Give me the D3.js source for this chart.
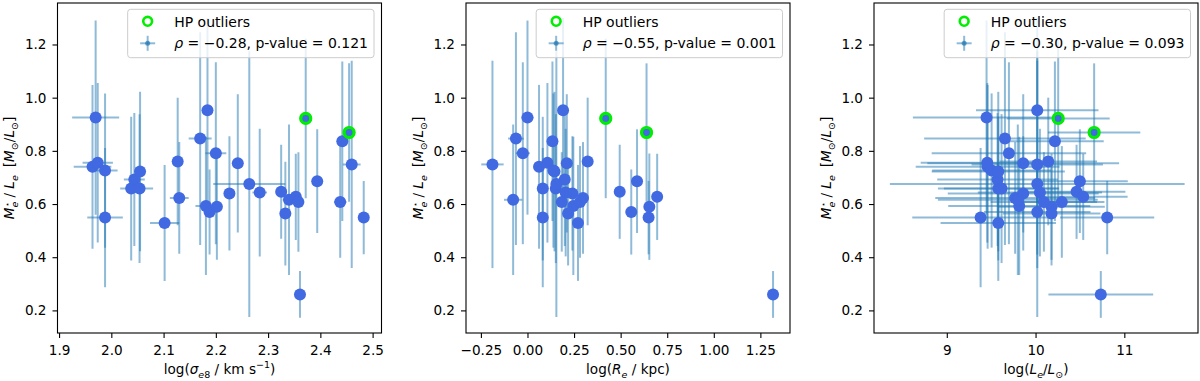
<!DOCTYPE html>
<meta charset="utf-8">
<script src="https://cdn.jsdelivr.net/npm/d3@7"></script>
<style>
  body { margin: 0; background: #fff; }
  svg { font-family: "DejaVu Sans", sans-serif; }
</style>
<body>
<svg id="fig" width="1200" height="381"></svg>
<script>
// one entry per galaxy, same order in every array
var mlRatio = [0.925,0.740,0.755,0.726,0.549,0.658,0.692,0.722,0.658,0.529,0.760,0.623,0.846,0.953,0.593,0.570,0.791,0.590,0.640,0.753,0.675,0.643,0.646,0.564,0.616,0.627,0.608,0.260,0.922,0.686,0.836,0.869,0.608,0.749,0.549];
var mlErr   = [0.365,0.308,0.300,0.290,0.262,0.270,0.250,0.300,0.280,0.218,0.240,0.210,0.400,0.347,0.260,0.160,0.342,0.200,0.215,0.260,0.500,0.240,0.177,0.195,0.283,0.162,0.187,0.088,0.300,0.195,0.300,0.260,0.210,0.390,0.138];

var logSigma    = [1.970,1.964,1.974,1.988,1.988,2.038,2.044,2.055,2.054,2.102,2.127,2.130,2.170,2.184,2.181,2.188,2.200,2.202,2.226,2.242,2.264,2.284,2.325,2.333,2.340,2.353,2.358,2.361,2.372,2.394,2.442,2.455,2.438,2.460,2.483];
var logSigmaErr = [0.045,0.036,0.029,0.024,0.034,0.021,0.020,0.011,0.026,0.028,0.006,0.018,0.022,0.008,0.020,0.008,0.020,0.010,0.005,0.005,0.069,0.014,0.010,0.005,0.012,0.005,0.005,0.005,0.005,0.005,0.005,0.005,0.012,0.017,0.005];

var logRe    = [0.000,0.062,0.107,0.139,0.082,0.082,0.200,0.145,0.152,0.271,0.323,0.298,-0.062,0.191,0.246,0.557,-0.025,0.654,0.241,0.211,0.155,0.205,0.495,0.218,-0.077,0.696,0.184,1.318,0.420,0.588,0.134,0.639,0.282,-0.188,0.650];
var logReErr = [0.033,0.020,0.015,0.010,0.015,0.012,0.010,0.010,0.010,0.010,0.012,0.012,0.042,0.010,0.012,0.010,0.038,0.010,0.010,0.010,0.010,0.010,0.010,0.012,0.049,0.010,0.010,0.010,0.010,0.010,0.010,0.010,0.010,0.060,0.010];

var logLum    = [9.448,9.460,9.456,9.505,9.381,9.580,9.572,9.580,9.617,9.580,10.143,9.770,9.655,10.019,9.816,10.019,9.700,10.180,9.861,9.861,10.019,10.049,10.462,10.180,9.800,10.537,10.094,10.735,10.255,10.499,10.218,10.660,10.296,10.019,10.807];
var logLumErr = [0.83,0.81,0.75,0.67,0.77,0.68,0.68,0.75,0.65,0.65,0.55,0.90,0.91,0.69,0.80,0.60,0.87,0.60,0.85,1.08,1.66,0.70,0.55,0.55,0.90,0.50,0.60,0.59,0.58,0.54,0.55,0.52,0.48,0.74,0.53];

var hpOutliers = [28, 31];

var rhoText = ["\u22120.28", "\u22120.55", "\u22120.30"];
var pText = ["0.121", "0.001", "0.093"];

var yTicks = [0.2, 0.4, 0.6, 0.8, 1.0, 1.2];
var sigmaTicks = [1.9, 2.0, 2.1, 2.2, 2.3, 2.4, 2.5];
var reTicks = [-0.25, 0, 0.25, 0.5, 0.75, 1.0, 1.25];
var lumTicks = [9, 10, 11];

var fs = 13.6, small = 9.5;
var axTop = 3, axW = 324, axH = 330;
var axLeft = [57.5, 466, 874];
var yDomain = [0.115, 1.356];
var errColor = "#1f77b4", dotColor = "#4169e1", hpColor = "#00ee00";

var svg = d3.select("#fig");

// mathtext-ish label: parts of {t, it, s:'sub'|'sup', dx}
function rich(text, parts) {
    var off = 0;
    parts.forEach(function (p) {
        var target = p.s === "sub" ? 4.2 : p.s === "sup" ? (p.up || -5.5) : 0;
        var ts = text.append("tspan").text(p.t);
        if (target !== off) ts.attr("dy", target - off);
        if (p.dx) ts.attr("dx", p.dx);
        if (p.it) ts.attr("font-style", "italic");
        if (p.s) ts.attr("font-size", p.size || small);
        off = target;
    });
}

function panel(i, xs, xerr, xDomain, xTicks, xFmt, xLabelParts) {
    var g = svg.append("g").attr("transform", "translate(" + axLeft[i] + "," + axTop + ")");
    var x = d3.scaleLinear().domain(xDomain).range([0, axW]);
    var y = d3.scaleLinear().domain(yDomain).range([axH, 0]);

    g.append("clipPath").attr("id", "clip" + i)
        .append("rect").attr("width", axW).attr("height", axH);
    var plot = g.append("g").attr("clip-path", "url(#clip" + i + ")");

    var pts = mlRatio.map(function (v, k) {
        return { x: xs[k], xe: xerr[k], y: v, ye: mlErr[k], hp: hpOutliers.indexOf(k) >= 0 };
    });

    plot.selectAll("line.ex").data(pts).join("line")
        .attr("x1", d => x(d.x - d.xe)).attr("x2", d => x(d.x + d.xe))
        .attr("y1", d => y(d.y)).attr("y2", d => y(d.y))
        .attr("stroke", errColor).attr("stroke-width", 2).attr("stroke-opacity", 0.5);
    plot.selectAll("line.ey").data(pts).join("line")
        .attr("x1", d => x(d.x)).attr("x2", d => x(d.x))
        .attr("y1", d => y(d.y - d.ye)).attr("y2", d => y(d.y + d.ye))
        .attr("stroke", errColor).attr("stroke-width", 2).attr("stroke-opacity", 0.5);

    plot.selectAll("circle.dot").data(pts).join("circle")
        .attr("cx", d => x(d.x)).attr("cy", d => y(d.y)).attr("r", 6)
        .attr("fill", dotColor);
    plot.selectAll("circle.hp").data(pts.filter(d => d.hp)).join("circle")
        .attr("cx", d => x(d.x)).attr("cy", d => y(d.y)).attr("r", 5)
        .attr("fill", "none").attr("stroke", hpColor).attr("stroke-width", 3.2);

    // axes
    var xa = g.append("g").attr("transform", "translate(0," + axH + ")")
        .call(d3.axisBottom(x).tickValues(xTicks).tickFormat(xFmt).tickSize(5).tickPadding(7));
    var ya = g.append("g")
        .call(d3.axisLeft(y).tickValues(yTicks).tickFormat(d3.format(".1f")).tickSize(5).tickPadding(6));
    [xa, ya].forEach(function (a) {
        a.select(".domain").remove();
        a.selectAll("line").attr("stroke", "#000").attr("stroke-width", 1.1);
        a.selectAll("text").attr("font-size", fs).attr("fill", "#000")
            .attr("font-family", "DejaVu Sans");
    });
    g.append("rect").attr("width", axW).attr("height", axH)
        .attr("fill", "none").attr("stroke", "#000").attr("stroke-width", 1.1);

    // axis labels
    var xl = g.append("text").attr("x", axW / 2).attr("y", axH + 40.5)
        .attr("text-anchor", "middle").attr("font-size", fs);
    rich(xl, xLabelParts);
    var yl = g.append("text").attr("text-anchor", "middle").attr("font-size", fs)
        .attr("transform", "translate(-43.5," + (axH / 2) + ") rotate(-90)");
    rich(yl, [
        { t: "M", it: 1 }, { t: "e", it: 1, s: "sub" },
        { t: "\u22c6", s: "sup", up: -4.5, size: 8, dx: -5.2 },
        { t: " / " }, { t: "L", it: 1 }, { t: "e", it: 1, s: "sub" },
        { t: "[", dx: 8 }, { t: "M", it: 1 }, { t: "\u2299", s: "sub" }, { t: "/" },
        { t: "L", it: 1 }, { t: "\u2299", s: "sub" }, { t: "]" }
    ]);

    // legend
    var lg = g.append("g");
    var box = lg.append("rect");
    var tx = 46.5;
    var t1 = lg.append("text").attr("x", tx).attr("y", 17.5).attr("font-size", 14).text("HP outliers");
    var t2 = lg.append("text").attr("x", tx).attr("y", 39).attr("font-size", 14);
    rich(t2, [{ t: "\u03c1", it: 1 }, { t: " = " + rhoText[i] + ", p-value = " + pText[i] }]);
    var w = Math.max(t1.node().getComputedTextLength(), t2.node().getComputedTextLength()) + tx + 6;
    box.attr("width", w).attr("height", 48.4).attr("rx", 3)
        .attr("fill", "#fff").attr("fill-opacity", 0.8)
        .attr("stroke", "#cccccc").attr("stroke-width", 1);
    lg.append("circle").attr("cx", 20).attr("cy", 12).attr("r", 4.4)
        .attr("fill", "none").attr("stroke", hpColor).attr("stroke-width", 2.6);
    lg.append("line").attr("x1", 12.5).attr("x2", 27.5).attr("y1", 34).attr("y2", 34)
        .attr("stroke", errColor).attr("stroke-width", 2).attr("stroke-opacity", 0.5);
    lg.append("line").attr("x1", 20).attr("x2", 20).attr("y1", 26.5).attr("y2", 41.5)
        .attr("stroke", errColor).attr("stroke-width", 2).attr("stroke-opacity", 0.5);
    lg.append("circle").attr("cx", 20).attr("cy", 34).attr("r", 2.5)
        .attr("fill", errColor).attr("fill-opacity", 0.7);
    lg.attr("transform", "translate(" + (axW - 7.5 - w) + ",6.3)");
}

panel(0, logSigma, logSigmaErr, [1.897, 2.517], sigmaTicks, d3.format(".1f"), [
    { t: "log(" }, { t: "\u03c3", it: 1 }, { t: "e", it: 1, s: "sub" }, { t: "8", s: "sub" },
    { t: " / km s" }, { t: "\u22121", s: "sup" }, { t: ")" }
]);
panel(1, logRe, logReErr, [-0.33, 1.409], reTicks, d3.format(".2f"), [
    { t: "log(" }, { t: "R", it: 1 }, { t: "e", it: 1, s: "sub" }, { t: " / kpc)" }
]);
panel(2, logLum, logLumErr, [8.18, 11.83], lumTicks, d3.format("d"), [
    { t: "log(" }, { t: "L", it: 1 }, { t: "e", it: 1, s: "sub" }, { t: "/" },
    { t: "L", it: 1 }, { t: "\u2299", s: "sub" }, { t: ")" }
]);
</script>
</body>
